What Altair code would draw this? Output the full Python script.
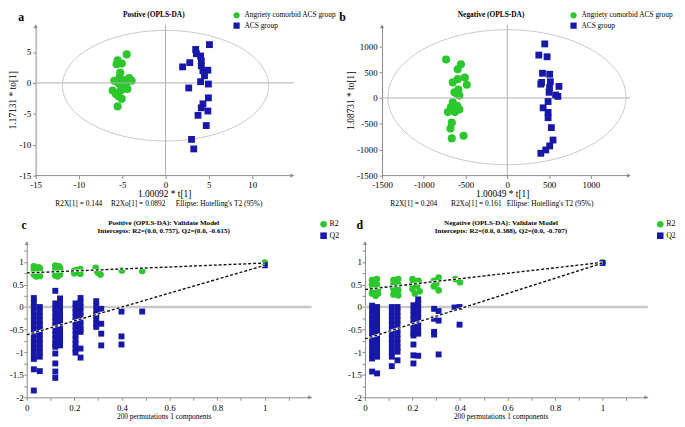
import altair as alt
import numpy as np
import pandas as pd

SERIF = "Liberation Serif"
GREEN = "#2cc72c"
BLUE = "#1818a8"
AXIS_C = "#8a8a8a"
MINUS = "\u2212"

GROUPS = ["Angriety comorbid ACS group", "ACS group"]
METRICS = ["R2", "Q2"]

# ---------------- panel a (positive OPLS-DA scores) ----------------
A_GREEN_X = [-4.48, -5.53, -5.05, -5.65, -5.23, -5.91, -4.89, -3.91, -4.20, -5.34, -4.59,
             -6.10, -5.16, -4.40, -5.73, -5.05, -5.53, -5.00, -5.60, -5.30, -4.50, -5.40]
A_GREEN_Y = [4.62, 3.66, 3.13, 3.02, 1.69, 0.36, 0.46, 0.36, 0.78, -0.18, -0.44,
             -1.24, -1.24, -0.98, -1.78, -2.58, -3.80, -0.70, 0.20, 0.90, 0.10, -2.20]
A_BLUE_X = [5.07, 3.48, 3.56, 4.05, 4.13, 2.80, 1.97, 4.13, 4.32, 4.89, 4.50,
            4.05, 4.95, 2.68, 4.95, 4.32, 4.13, 4.89, 3.75, 4.70, 3.00, 3.26]
A_BLUE_Y = [6.20, 5.42, 4.73, 4.36, 3.56, 3.29, 2.60, 2.76, 1.96, 2.06, 1.16,
            0.20, -0.18, -0.82, -2.42, -3.38, -4.02, -4.55, -5.24, -6.90, -9.14, -10.68]
A_XTICKS = [-15, -10, -5, 0, 5, 10]
A_YTICKS = [-15, -10, -5, 0, 5]
A_XAXIS = [-15, 14.8]          # drawn x-axis extent
A_XDOM = [-16.024, 14.8]       # plot extent (left margin so rows line up like the figure)
A_YDOM = [-15, 9.4]
A_ELLIPSE = [0.0, -0.45, 11.9, 8.95]  # centre x, centre y, radius x, radius y

# ---------------- panel b (negative OPLS-DA scores) ----------------
B_GREEN_X = [-733, -555, -594, -508, -653, -485, -594, -633, -586, -574, -653,
             -674, -574, -712, -627, -665, -681, -665, -524, -610, -600]
B_GREEN_Y = [744, 649, 553, 395, 300, 256, 363, 109, 160, 46, -82,
             -178, -221, -273, -273, -477, -592, -782, -731, 90, -150]
B_BLUE_X = [448, 377, 476, 421, 507, 401, 515, 618, 500, 578, 488,
            429, 488, 488, 527, 547, 507, 460, 401, 605, 410, 505]
B_BLUE_Y = [1044, 828, 796, 477, 458, 267, 313, 223, 109, 57, -69,
            -191, -279, -382, -573, -813, -927, -1004, -1069, 30, 300, 200]
B_XTICKS = [-1500, -1000, -500, 0, 500, 1000]
B_YTICKS = [-1500, -1000, -500, 0, 500, 1000]
B_XAXIS = [-1500, 1472]
B_XDOM = [-1500, 1472]
B_YDOM = [-1500, 1412]
B_ELLIPSE = [-4.0, 14.0, 1425.0, 1304.0]

# ---------------- panel c (positive permutation test) ----------------
C_R2_X = [0.03, 0.03, 0.03, 0.035, 0.04, 0.04, 0.045, 0.05, 0.05, 0.055, 0.055, 0.055,
          0.12, 0.12, 0.12, 0.125, 0.13, 0.13, 0.135, 0.14, 0.14, 0.14,
          0.20, 0.20, 0.21, 0.215, 0.225, 0.225,
          0.29, 0.295, 0.30, 0.31, 0.40, 0.485, 1.0]
C_R2_Y = [0.90, 0.80, 0.72, 0.85, 0.76, 0.68, 0.82, 0.88, 0.72, 0.78, 0.86, 0.69,
          0.92, 0.82, 0.70, 0.87, 0.76, 0.68, 0.90, 0.80, 0.72, 0.86,
          0.80, 0.75, 0.82, 0.77, 0.84, 0.74,
          0.87, 0.80, 0.76, 0.72, 0.81, 0.80, 0.985]
C_Q2 = {
    0.030: [0.20, 0.10, 0.00, -0.10, -0.20, -0.30, -0.40, -0.50, -0.60, -0.70, -0.80, -0.90, -1.00, -1.10, -1.15, -1.38, -1.85],
    0.055: [0.00, -0.10, -0.20, -0.30, -0.40, -0.50, -0.60, -0.70, -0.80, -0.90, -1.00, -1.10, -1.42],
    0.120: [0.36, 0.08, -0.02, -0.12, -0.22, -0.32, -0.42, -0.52, -0.62, -0.72, -0.82, -0.88, -1.03, -1.25, -1.43, -1.57],
    0.140: [0.19, 0.08, -0.02, -0.12, -0.22, -0.32, -0.42, -0.52, -0.62, -0.72, -0.80, -0.85],
    0.205: [0.08, -0.02, -0.12, -0.22, -0.32, -0.42, -0.52, -0.62, -0.72, -0.82, -0.92, -1.01],
    0.226: [0.20, 0.10, 0.00, -0.10, -0.20, -0.30, -0.40, -0.50, -0.55, -0.92, -1.12],
    0.292: [0.13, 0.03, -0.07, -0.17, -0.27, -0.37, -0.44],
    0.313: [-0.04, -0.37, -0.59, -0.85],
    0.398: [-0.10, -0.65, -0.83],
    0.485: [-0.10],
    1.000: [0.925],
}
C_LINE_X = [0.0, 1.0]
C_R2_LINE = [0.757, 0.975]
C_Q2_LINE = [-0.615, 0.925]
C_XDOM = [0, 1.196]

# ---------------- panel d (negative permutation test) ----------------
D_R2_X = [0.03, 0.03, 0.03, 0.03, 0.04, 0.04, 0.04, 0.045, 0.05, 0.05, 0.055, 0.055,
          0.12, 0.12, 0.12, 0.12, 0.13, 0.13, 0.13, 0.14, 0.14, 0.14, 0.14,
          0.20, 0.20, 0.20, 0.21, 0.21, 0.22, 0.225, 0.23,
          0.29, 0.29, 0.30, 0.31, 0.31, 0.38, 0.40, 1.0]
D_R2_Y = [0.60, 0.50, 0.40, 0.30, 0.55, 0.45, 0.35, 0.25, 0.62, 0.50, 0.40, 0.30,
          0.60, 0.50, 0.40, 0.28, 0.55, 0.45, 0.33, 0.62, 0.50, 0.38, 0.26,
          0.62, 0.50, 0.40, 0.55, 0.30, 0.47, 0.58, 0.35,
          0.58, 0.46, 0.52, 0.65, 0.37, 0.62, 0.55, 0.99]
D_Q2 = {
    0.030: [0.03, -0.07, -0.17, -0.27, -0.37, -0.47, -0.57, -0.67, -0.77, -0.87, -0.97, -1.07, -1.14, -1.43],
    0.051: [0.00, -0.10, -0.20, -0.30, -0.40, -0.50, -0.60, -0.70, -0.80, -0.90, -1.00, -1.10, -1.47],
    0.113: [0.00, -0.10, -0.20, -0.30, -0.40, -0.50, -0.60, -0.70, -0.80, -0.90, -1.00, -1.10, -1.31],
    0.137: [0.00, -0.10, -0.20, -0.30, -0.40, -0.50, -0.60, -0.70, -0.80, -0.90, -0.99, -1.18],
    0.204: [0.04, -0.08, -0.18, -0.28, -0.38, -0.48, -0.58, -0.63, -0.83, -1.07, -1.25],
    0.224: [0.17, 0.07, -0.03, -0.13, -0.23, -0.33, -0.43, -0.53, -0.59, -1.08],
    0.291: [-0.04, -0.26, -0.55, -0.61],
    0.310: [-0.09, -0.30, -1.05],
    0.377: [-0.01],
    0.398: [0.00, -0.39],
    1.000: [0.975],
}
D_LINE_X = [0.0, 1.0]
D_R2_LINE = [0.388, 0.99]
D_Q2_LINE = [-0.707, 0.975]
D_XDOM = [0, 1.19]

PERM_YDOM = [-2, 1.45]
PERM_XTICKS = [0.0, 0.1, 0.2, 0.3, 0.4, 0.5, 0.6, 0.7, 0.8, 0.9, 1.0, 1.1]
PERM_YTICKS = [-2.0, -1.75, -1.5, -1.25, -1.0, -0.75, -0.5, -0.25, 0.0, 0.25, 0.5, 0.75, 1.0, 1.25]


def fmt_expr():
    return f"replace(format(datum.value, '~g'), '{MINUS}', '-')"


def step_expr(step, vmax=None):
    cond = f"abs(datum.value/{step} - round(datum.value/{step})) < 1e-6"
    if vmax is not None:
        cond += f" && datum.value <= {vmax}"
    return f"({cond}) ? {fmt_expr()} : ''"


def txt(s, x, y, size, weight="normal", align="center", baseline="middle", font=SERIF):
    return alt.Chart(pd.DataFrame({"t": [s]})).mark_text(
        font=font, fontSize=size, fontWeight=weight, align=align,
        baseline=baseline, color="black"
    ).encode(text="t:N", x=alt.value(x), y=alt.value(y))


def make_enc(xs, ys, xaxis, yaxis):
    def enc(use_x=True, use_y=True, x2=False):
        d = {}
        if use_x:
            d["x"] = alt.X("x:Q", scale=xs, axis=xaxis)
            if x2:
                d["x2"] = alt.X2("x2:Q")
        if use_y:
            d["y"] = alt.Y("y:Q", scale=ys, axis=yaxis)
        return d
    return enc


def arrows(enc, xaxis_ext, ydom):
    up = alt.Chart(pd.DataFrame({"x": [xaxis_ext[0]], "y": [ydom[1]]})).mark_point(
        shape="triangle-up", filled=True, size=18, color=AXIS_C, opacity=1, yOffset=1.5
    ).encode(**enc())
    right = alt.Chart(pd.DataFrame({"x": [xaxis_ext[1]], "y": [ydom[0]]})).mark_point(
        shape="triangle-right", filled=True, size=18, color=AXIS_C, opacity=1, xOffset=-1.5
    ).encode(**enc())
    return [up, right]


def score_panel(gx, gy, bx, by, xdom, xaxis_ext, ydom, xticks, yticks, ell, w, h,
                letter, letter_dx, title, title_dx, xtitle, xtitle_x, ytitle, ytitle_y,
                stats, stats_dx, legend_x, yoffset):
    xs = alt.Scale(domain=xdom, nice=False, zero=False)
    ys = alt.Scale(domain=ydom, nice=False, zero=False)
    xaxis = alt.Axis(values=xticks, title=xtitle, labelExpr=fmt_expr(), labelPadding=2,
                     titlePadding=-1, titleX=xtitle_x, domain=False)
    yextra = {"titleY": ytitle_y} if ytitle_y is not None else {}
    yaxis = alt.Axis(values=yticks, title=ytitle, labelExpr=fmt_expr(), labelPadding=2,
                     titlePadding=1, offset=yoffset, **yextra)
    enc = make_enc(xs, ys, xaxis, yaxis)

    t = np.linspace(0, 2 * np.pi, 181)
    edf = pd.DataFrame({"x": ell[0] + ell[2] * np.cos(t), "y": ell[1] + ell[3] * np.sin(t),
                        "i": np.arange(len(t))})
    ellipse = alt.Chart(edf).mark_line(color="#c6c6c6", strokeWidth=1).encode(
        order="i:Q", **enc())
    zx = alt.Chart(pd.DataFrame({"x": [0]})).mark_rule(color="#b0b0b0", strokeWidth=1).encode(
        **enc(use_y=False))
    zy = alt.Chart(pd.DataFrame({"x": [xaxis_ext[0]], "x2": [xaxis_ext[1]], "y": [0]})).mark_rule(
        color="#b0b0b0", strokeWidth=1).encode(**enc(x2=True))
    xline = alt.Chart(pd.DataFrame({"x": [xaxis_ext[0]], "x2": [xaxis_ext[1]], "y": [ydom[0]]})).mark_rule(
        color=AXIS_C, strokeWidth=1).encode(**enc(x2=True))

    leg = alt.Legend(orient="none", legendX=legend_x, legendY=-13.7, title=None,
                     labelFont=SERIF, labelFontSize=7.5, symbolSize=40, labelOffset=4,
                     rowPadding=2.5, padding=0)
    cscale = alt.Scale(domain=GROUPS, range=[GREEN, BLUE])
    sscale = alt.Scale(domain=GROUPS, range=["circle", "square"])

    def pts(xv, yv, grp, size):
        df = pd.DataFrame({"x": xv, "y": yv, "group": [grp] * len(xv)})
        return alt.Chart(df).mark_point(filled=True, opacity=1, size=size, strokeWidth=0.4).encode(
            color=alt.Color("group:N", scale=cscale, legend=leg),
            shape=alt.Shape("group:N", scale=sscale, legend=leg),
            **enc()
        )

    green = pts(gx, gy, GROUPS[0], 68)
    blue = pts(bx, by, GROUPS[1], 48)

    texts = [
        txt(letter, letter_dx, -8, 12, weight="bold"),
        txt(title, title_dx, -10, 7.5, weight="bold"),
    ]
    for s, dx in zip(stats, stats_dx):
        texts.append(txt(s, dx, 181.5, 7.5, align="left"))

    return alt.layer(green, ellipse, zx, zy, xline, *arrows(enc, xaxis_ext, ydom), blue,
                     *texts).properties(width=w, height=h)


def perm_panel(r2x, r2y, q2cols, line_x, r2_line, q2_line, xdom, w, h,
               letter, letter_dx, title1, title2, title_dx, xtitle_x, legend_x):
    xs = alt.Scale(domain=xdom, nice=False, zero=False)
    ys = alt.Scale(domain=PERM_YDOM, nice=False, zero=False)
    xaxis = alt.Axis(values=PERM_XTICKS, title="200 permutations 1 components",
                     labelExpr=step_expr(0.2, 1.0), labelPadding=3, titlePadding=1,
                     titleFontSize=7.5, titleX=xtitle_x)
    yaxis = alt.Axis(values=PERM_YTICKS, title=None, labelExpr=step_expr(0.5),
                     labelPadding=0.5)
    enc = make_enc(xs, ys, xaxis, yaxis)

    qx, qy = [], []
    for xv, yl in q2cols.items():
        for yv in yl:
            qx.append(xv)
            qy.append(yv)

    zy = alt.Chart(pd.DataFrame({"y": [0]})).mark_rule(color="#c8c8c8", strokeWidth=2.5).encode(
        **enc(use_x=False))

    leg = alt.Legend(orient="none", legendX=legend_x, legendY=-22.2, title=None,
                     labelFont=SERIF, labelFontSize=8, symbolSize=44, labelOffset=1.5,
                     rowPadding=2.7, padding=0)
    cscale = alt.Scale(domain=METRICS, range=[GREEN, BLUE])
    sscale = alt.Scale(domain=METRICS, range=["circle", "square"])

    def pts(xv, yv, grp, size):
        df = pd.DataFrame({"x": xv, "y": yv, "group": [grp] * len(xv)})
        return alt.Chart(df).mark_point(filled=True, opacity=1, size=size, strokeWidth=0.4).encode(
            color=alt.Color("group:N", scale=cscale, legend=leg),
            shape=alt.Shape("group:N", scale=sscale, legend=leg),
            **enc()
        )

    green = pts(r2x, r2y, "R2", 46)
    blue = pts(qx, qy, "Q2", 36)

    lines = []
    for yl in (r2_line, q2_line):
        ldf = pd.DataFrame({"x": line_x, "y": yl})
        lines.append(alt.Chart(ldf).mark_line(color="white", strokeWidth=2.2).encode(**enc()))
        lines.append(alt.Chart(ldf).mark_line(color="#111111", strokeWidth=1.4,
                                              strokeDash=[3, 2]).encode(**enc()))

    texts = [
        txt(letter, letter_dx, -16.7, 12, weight="bold"),
        txt(title1, title_dx, -19, 7.2, weight="bold"),
        txt(title2, title_dx, -10.6, 7.2, weight="bold"),
    ]
    return alt.layer(green, zy, *arrows(enc, xdom, PERM_YDOM), blue, *lines, *texts).properties(
        width=w, height=h)


panel_a = score_panel(A_GREEN_X, A_GREEN_Y, A_BLUE_X, A_BLUE_Y, A_XDOM, A_XAXIS, A_YDOM,
                      A_XTICKS, A_YTICKS, A_ELLIPSE, 271, 153, "a", -5.7, "Postive (OPLS-DA)", 129,
                      "1.00092 * t[1]", 139.5, "1.17131 * to[1]", 76,
                      ["R2X[1] = 0.144", "R2Xo[1] = 0.0892", "Ellipse: Hotelling's T2 (95%)"],
                      [29, 85.6, 151.3], 209, -9)
panel_b = score_panel(B_GREEN_X, B_GREEN_Y, B_BLUE_X, B_BLUE_Y, B_XDOM, B_XAXIS, B_YDOM,
                      B_XTICKS, B_YTICKS, B_ELLIPSE, 252, 153, "b", -40, "Negative (OPLS-DA)", 110.7,
                      "1.00049 * t[1]", 122, "1.08731 * to[1]", None,
                      ["R2X[1] = 0.204", "R2Xo[1] = 0.161", "Ellipse: Hotelling's T2 (95%)"],
                      [8.4, 70, 126.7], 190.4, 0)
panel_c = perm_panel(C_R2_X, C_R2_Y, C_Q2, C_LINE_X, C_R2_LINE, C_Q2_LINE, C_XDOM, 289, 158,
                     "c", -2.7, "Positive (OPLS-DA): Validate Model",
                     "Intercepts: R2=(0.0, 0.757), Q2=(0.0, -0.615)", 139, 139, 296.8)
panel_d = perm_panel(D_R2_X, D_R2_Y, D_Q2, D_LINE_X, D_R2_LINE, D_Q2_LINE, D_XDOM, 287, 158,
                     "d", -5.3, "Negative (OPLS-DA): Validate Model",
                     "Intercepts: R2=(0.0, 0.388), Q2=(0.0, -0.707)", 138, 137.7, 295.2)

ind = dict(color="independent", shape="independent")
row1 = alt.hconcat(panel_a, panel_b, spacing=89.6, bounds="flush").resolve_scale(**ind)
row2 = alt.hconcat(panel_c, panel_d, spacing=54.3, bounds="flush").resolve_scale(**ind)

chart = alt.vconcat(row1, row2, spacing=12).resolve_scale(**ind).properties(
    padding={"left": 0, "top": 0, "right": 0, "bottom": 0}
).configure_axis(
    labelFont=SERIF, labelFontSize=9, labelColor="black",
    titleFont=SERIF, titleFontSize=9.5, titleFontWeight="normal", titleColor="black",
    domainColor=AXIS_C, tickColor=AXIS_C, tickSize=3, grid=False,
    labelFlush=False, labelOverlap=False
).configure_view(stroke=None)

chart.save("out.html", embed_options={"renderer": "svg", "actions": False})
